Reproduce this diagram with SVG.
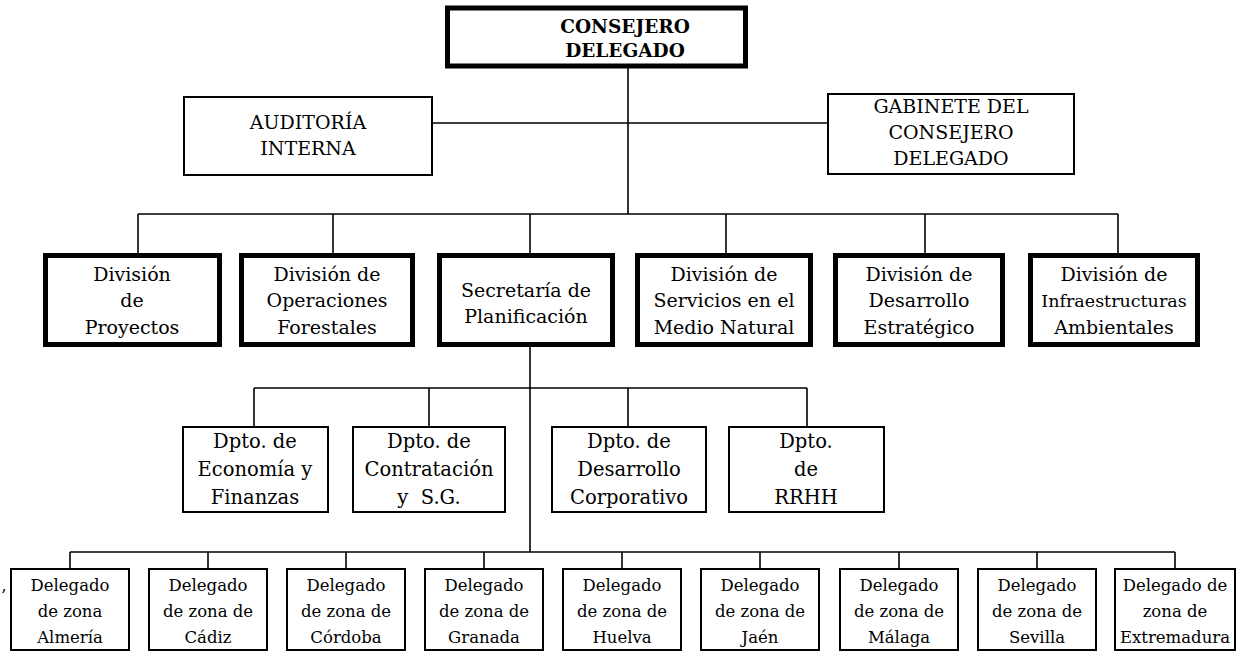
<svg xmlns="http://www.w3.org/2000/svg" width="1251" height="656" viewBox="0 0 1251 656" font-family="'DejaVu Serif', serif">
<style>
  .bg{fill:#fff}
  .thick{fill:#fff;stroke:#000;stroke-width:5}
  .thin{fill:#fff;stroke:#000;stroke-width:2}
  .con{fill:none;stroke:#000;stroke-width:1.6}
  text{fill:#000;text-anchor:middle;font-family:"DejaVu Serif",serif}
  .top{font-size:18.5px;font-weight:bold}
  .mid{font-size:19px}
  .div{font-size:19px}
  .dp{font-size:19.5px}
  .del{font-size:16.5px}
</style>
<rect class="bg" x="0" y="0" width="1251" height="656"/>
<g id="connectors">
  <path class="con" d="M628 68 V214"/>
  <path class="con" d="M433 123 H827"/>
  <path class="con" d="M138 214 H1118 M138 214 V253 M333 214 V253 M530 214 V253 M726 214 V253 M925 214 V253 M1118 214 V253"/>
  <path class="con" d="M530 347 V552"/>
  <path class="con" d="M254 388 H807 M254 388 V426 M429 388 V426 M628 388 V426 M807 388 V426"/>
  <path class="con" d="M70 552 H1175 M70 552 V568 M208 552 V568 M346 552 V568 M484 552 V568 M622 552 V568 M760 552 V568 M899 552 V568 M1037 552 V568 M1175 552 V568"/>
</g>
<g id="consejero">
  <rect class="thick" x="447.5" y="8" width="298" height="58"/>
  <text class="top" x="625" y="33">CONSEJERO</text>
  <text class="top" x="625" y="57">DELEGADO</text>
</g>
<g id="auditoria">
  <rect class="thin" x="184" y="97" width="248" height="78"/>
  <text class="mid" x="308" y="129">AUDITORÍA</text>
  <text class="mid" x="308" y="155">INTERNA</text>
</g>
<g id="gabinete">
  <rect class="thin" x="828" y="94" width="246" height="80"/>
  <text class="mid" x="951" y="113">GABINETE DEL</text>
  <text class="mid" x="951" y="139">CONSEJERO</text>
  <text class="mid" x="951" y="165">DELEGADO</text>
</g>
<g id="div-proyectos">
  <rect class="thick" x="45.5" y="255.5" width="174" height="89"/>
  <text class="div" x="132" y="281">División</text>
  <text class="div" x="132" y="307">de</text>
  <text class="div" x="132" y="334">Proyectos</text>
</g>
<g id="div-operaciones">
  <rect class="thick" x="241.5" y="255.5" width="171" height="89"/>
  <text class="div" x="327" y="281">División de</text>
  <text class="div" x="327" y="307">Operaciones</text>
  <text class="div" x="327" y="334">Forestales</text>
</g>
<g id="secretaria">
  <rect class="thick" x="439.5" y="255.5" width="173" height="89"/>
  <text class="div" x="526" y="297">Secretaría de</text>
  <text class="div" x="526" y="323">Planificación</text>
</g>
<g id="div-servicios">
  <rect class="thick" x="637.5" y="255.5" width="173" height="89"/>
  <text class="div" x="724" y="281">División de</text>
  <text class="div" x="724" y="307">Servicios en el</text>
  <text class="div" x="724" y="334">Medio Natural</text>
</g>
<g id="div-desarrollo">
  <rect class="thick" x="835.5" y="255.5" width="167" height="89"/>
  <text class="div" x="919" y="281">División de</text>
  <text class="div" x="919" y="307">Desarrollo</text>
  <text class="div" x="919" y="334">Estratégico</text>
</g>
<g id="div-infraestructuras">
  <rect class="thick" x="1030.5" y="255.5" width="167" height="89"/>
  <text class="div" x="1114" y="281">División de</text>
  <text class="div" x="1114" y="307" style="font-size:17.5px">Infraestructuras</text>
  <text class="div" x="1114" y="334">Ambientales</text>
</g>
<g id="dpto-economia">
  <rect class="thin" x="183" y="427" width="145" height="85"/>
  <text class="dp" x="255" y="448">Dpto. de</text>
  <text class="dp" x="255" y="476">Economía y</text>
  <text class="dp" x="255" y="504">Finanzas</text>
</g>
<g id="dpto-contratacion">
  <rect class="thin" x="353" y="427" width="152" height="85"/>
  <text class="dp" x="429" y="448">Dpto. de</text>
  <text class="dp" x="429" y="476">Contratación</text>
  <text class="dp" x="429" y="504" xml:space="preserve">y  S.G.</text>
</g>
<g id="dpto-desarrollo">
  <rect class="thin" x="552" y="427" width="154" height="85"/>
  <text class="dp" x="629" y="448">Dpto. de</text>
  <text class="dp" x="629" y="476">Desarrollo</text>
  <text class="dp" x="629" y="504">Corporativo</text>
</g>
<g id="dpto-rrhh">
  <rect class="thin" x="729" y="427" width="155" height="85"/>
  <text class="dp" x="806" y="448">Dpto.</text>
  <text class="dp" x="806" y="476">de</text>
  <text class="dp" x="806" y="504">RRHH</text>
</g>
<g id="del-almeria">
  <rect class="thin" x="11" y="569" width="118" height="81"/>
  <text class="del" x="70" y="591">Delegado</text>
  <text class="del" x="70" y="617">de zona</text>
  <text class="del" x="70" y="643">Almería</text>
</g>
<g id="del-cadiz">
  <rect class="thin" x="149" y="569" width="118" height="81"/>
  <text class="del" x="208" y="591">Delegado</text>
  <text class="del" x="208" y="617">de zona de</text>
  <text class="del" x="208" y="643">Cádiz</text>
</g>
<g id="del-cordoba">
  <rect class="thin" x="287" y="569" width="118" height="81"/>
  <text class="del" x="346" y="591">Delegado</text>
  <text class="del" x="346" y="617">de zona de</text>
  <text class="del" x="346" y="643">Córdoba</text>
</g>
<g id="del-granada">
  <rect class="thin" x="425" y="569" width="118" height="81"/>
  <text class="del" x="484" y="591">Delegado</text>
  <text class="del" x="484" y="617">de zona de</text>
  <text class="del" x="484" y="643">Granada</text>
</g>
<g id="del-huelva">
  <rect class="thin" x="563" y="569" width="118" height="81"/>
  <text class="del" x="622" y="591">Delegado</text>
  <text class="del" x="622" y="617">de zona de</text>
  <text class="del" x="622" y="643">Huelva</text>
</g>
<g id="del-jaen">
  <rect class="thin" x="701" y="569" width="118" height="81"/>
  <text class="del" x="760" y="591">Delegado</text>
  <text class="del" x="760" y="617">de zona de</text>
  <text class="del" x="760" y="643">Jaén</text>
</g>
<g id="del-malaga">
  <rect class="thin" x="840" y="569" width="118" height="81"/>
  <text class="del" x="899" y="591">Delegado</text>
  <text class="del" x="899" y="617">de zona de</text>
  <text class="del" x="899" y="643">Málaga</text>
</g>
<g id="del-sevilla">
  <rect class="thin" x="978" y="569" width="118" height="81"/>
  <text class="del" x="1037" y="591">Delegado</text>
  <text class="del" x="1037" y="617">de zona de</text>
  <text class="del" x="1037" y="643">Sevilla</text>
</g>
<g id="del-extremadura">
  <rect class="thin" x="1115" y="569" width="120" height="81"/>
  <text class="del" x="1175" y="591">Delegado de</text>
  <text class="del" x="1175" y="617">zona de</text>
  <text class="del" x="1175" y="643">Extremadura</text>
</g>
<text x="4" y="591" font-size="16">,</text>
</svg>
